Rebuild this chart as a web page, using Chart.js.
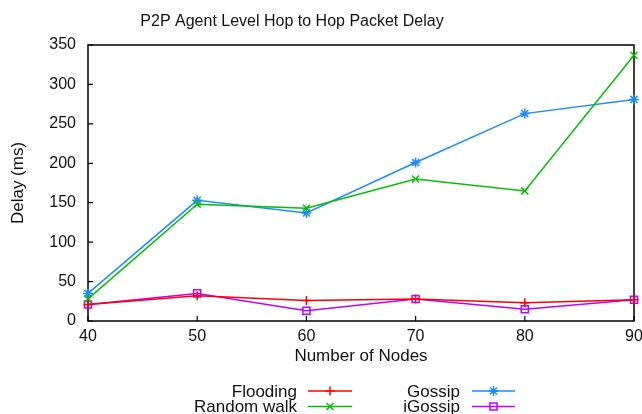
<!DOCTYPE html>
<html>
<head>
<meta charset="utf-8">
<script src="https://cdn.jsdelivr.net/npm/chart.js@4.4.1/dist/chart.umd.min.js"></script>
<style>
  html, body { margin: 0; padding: 0; background: #ffffff; }
  #wrap { width: 642px; height: 414px; }
</style>
</head>
<body>
<div id="wrap"><canvas id="c" width="642" height="414"></canvas></div>
<script>
// Network size (x axis) and per-protocol delay in ms
const nodes = [40, 50, 60, 70, 80, 90];
const flooding = [21, 32, 26, 28, 23, 27];
const randomWalk = [28, 148, 143, 180, 165, 337];
const gossip = [35, 153, 137, 201, 263, 281];
const iGossip = [21, 35, 13, 28, 15, 27];
const yTicks = [0, 50, 100, 150, 200, 250, 300, 350];

const FONT = '"Liberation Sans", Arial, Helvetica, sans-serif';
const TEXT = '#111111';

const series = [
  { label: 'Flooding', data: flooding, color: '#ff0000', style: 'cross', r: 4.5 },
  { label: 'Random walk', data: randomWalk, color: '#00c000', style: 'crossRot', r: 5 },
  { label: 'Gossip', data: gossip, color: '#1a8cff', style: 'star', r: 5 },
  { label: 'iGossip', data: iGossip, color: '#c000ff', style: 'rect', r: 5 }
];

// Border box with inward ticks, gnuplot style
const framePlugin = {
  id: 'frame',
  beforeDatasetsDraw(chart) {
    const { ctx, chartArea: a, scales } = chart;
    ctx.save();
    ctx.strokeStyle = '#000';
    ctx.lineWidth = 1.5;
    ctx.strokeRect(a.left, a.top, a.right - a.left, a.bottom - a.top);
    ctx.lineWidth = 1.2;
    ctx.beginPath();
    yTicks.forEach(v => {
      const y = scales.y.getPixelForValue(v);
      ctx.moveTo(a.left, y); ctx.lineTo(a.left + 5, y);
    });
    nodes.forEach(v => {
      const x = scales.x.getPixelForValue(v);
      ctx.moveTo(x, a.bottom); ctx.lineTo(x, a.bottom - 5);
    });
    ctx.stroke();
    ctx.restore();
  }
};

function marker(ctx, style, x, y, r) {
  ctx.beginPath();
  if (style === 'cross' || style === 'star') {
    ctx.moveTo(x - r, y); ctx.lineTo(x + r, y);
    ctx.moveTo(x, y - r); ctx.lineTo(x, y + r);
  }
  if (style === 'crossRot' || style === 'star') {
    const d = r * Math.SQRT1_2;
    ctx.moveTo(x - d, y - d); ctx.lineTo(x + d, y + d);
    ctx.moveTo(x - d, y + d); ctx.lineTo(x + d, y - d);
  }
  if (style === 'rect') {
    const s = r * Math.SQRT1_2;
    ctx.rect(x - s, y - s, 2 * s, 2 * s);
  }
  ctx.stroke();
}

// Title and two-column key below the plot
const annotatePlugin = {
  id: 'annotate',
  afterDraw(chart) {
    const ctx = chart.ctx;
    ctx.save();
    ctx.fillStyle = TEXT;
    ctx.font = '16px ' + FONT;
    ctx.textAlign = 'center';
    ctx.textBaseline = 'alphabetic';
    ctx.fillText('P2P Agent Level Hop to Hop Packet Delay', 292, 26);

    ctx.font = '17px ' + FONT;
    const cols = [{ textRight: 297, x0: 308, x1: 352 }, { textRight: 460, x0: 472, x1: 515 }];
    const rows = [391, 406.5];
    const order = [[0, 0, 0], [1, 0, 1], [2, 1, 0], [3, 1, 1]];
    ctx.textAlign = 'right';
    ctx.textBaseline = 'middle';
    order.forEach(([i, c, r]) => {
      const s = series[i], col = cols[c], y = rows[r];
      ctx.fillStyle = TEXT;
      ctx.fillText(s.label, col.textRight, y + 1);
      ctx.strokeStyle = s.color;
      ctx.lineWidth = 1.5;
      ctx.beginPath(); ctx.moveTo(col.x0, y); ctx.lineTo(col.x1, y); ctx.stroke();
      marker(ctx, s.style, (col.x0 + col.x1) / 2, y, s.r);
    });
    ctx.restore();
  }
};

new Chart(document.getElementById('c'), {
  type: 'line',
  data: {
    datasets: series.map(s => ({
      label: s.label,
      data: nodes.map((n, i) => ({ x: n, y: s.data[i] })),
      borderColor: s.color,
      backgroundColor: 'rgba(0,0,0,0)',
      borderWidth: 1.5,
      pointStyle: s.style,
      pointRadius: s.r,
      pointBorderWidth: 1.5,
      pointBorderColor: s.color,
      pointBackgroundColor: 'rgba(0,0,0,0)',
      tension: 0,
      clip: false
    }))
  },
  options: {
    responsive: false,
    animation: false,
    devicePixelRatio: 1,
    layout: { padding: { left: 0, right: 8, top: 45, bottom: 0 } },
    plugins: { legend: { display: false }, title: { display: false }, tooltip: { enabled: false } },
    scales: {
      x: {
        type: 'linear',
        min: 40, max: 90,
        grid: { display: false, drawTicks: false },
        border: { display: false },
        ticks: { stepSize: 10, color: TEXT, font: { family: FONT, size: 16 }, padding: 6, maxRotation: 0 },
        title: { display: true, text: 'Number of Nodes', color: TEXT, font: { family: FONT, size: 17 }, padding: { top: 0, bottom: 47 } },
        afterFit(s) { s.height = 93; s.paddingLeft = 0; s.paddingRight = 0; }
      },
      y: {
        min: 0, max: 350,
        grid: { display: false, drawTicks: false },
        border: { display: false },
        ticks: { stepSize: 50, color: TEXT, font: { family: FONT, size: 16 }, padding: 12 },
        title: { display: true, text: 'Delay (ms)', color: TEXT, font: { family: FONT, size: 17 }, padding: { top: 8, bottom: 0 } },
        afterFit(s) { s.width = 88; s.paddingTop = 0; s.paddingBottom = 0; }
      }
    }
  },
  plugins: [framePlugin, annotatePlugin]
});
</script>
</body>
</html>
